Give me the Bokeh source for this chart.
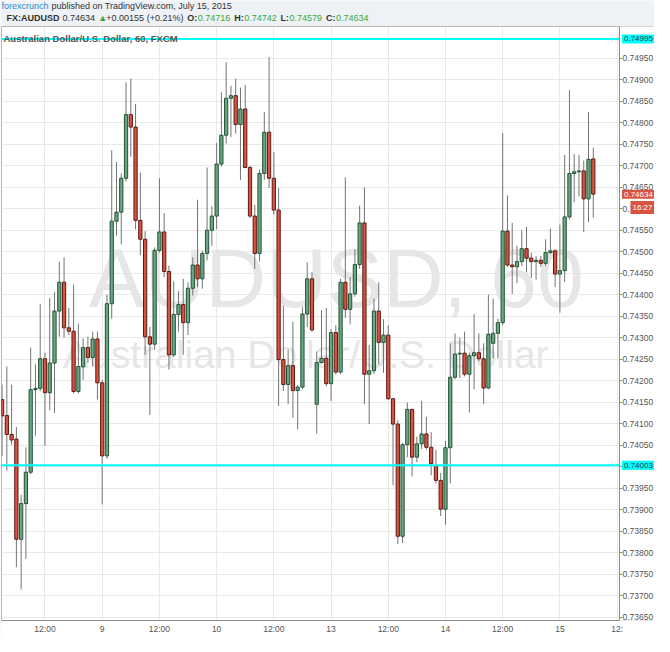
from bokeh.plotting import figure
from bokeh.layouts import column
from bokeh.models import ColumnDataSource, Range1d, FixedTicker, Label, PrintfTickFormatter, BoxAnnotation
from bokeh.embed import file_html
from bokeh.resources import INLINE

# hourly AUD/USD candles, 8 Jul 03:00 .. 15 Jul 07:00
opens = [0.74156, 0.74119, 0.74075, 0.74064, 0.73831, 0.73914, 0.73987, 0.74179, 0.74182, 0.74251,
         0.74172, 0.74241, 0.74362, 0.74429, 0.74323, 0.74315, 0.74175, 0.74232, 0.74277, 0.74254,
         0.74297, 0.74195, 0.74025, 0.74379, 0.74571, 0.74592, 0.74671, 0.74819, 0.74790, 0.74573,
         0.74529, 0.74302, 0.74285, 0.74503, 0.74546, 0.74454, 0.74260, 0.74354, 0.74377, 0.74335,
         0.74415, 0.74469, 0.74437, 0.74496, 0.74550, 0.74583, 0.74704, 0.74771, 0.74857, 0.74863,
         0.74796, 0.74832, 0.74696, 0.74583, 0.74496, 0.74682, 0.74778, 0.74671, 0.74597, 0.74249,
         0.74191, 0.74235, 0.74177, 0.74185, 0.74355, 0.74437, 0.74145, 0.74242, 0.74252, 0.74193,
         0.74312, 0.74220, 0.74429, 0.74366, 0.74402, 0.74470, 0.74567, 0.74215, 0.74223, 0.74362,
         0.74289, 0.74306, 0.74158, 0.74099, 0.73838, 0.74051, 0.74133, 0.74022, 0.74053, 0.74076,
         0.74045, 0.74003, 0.73968, 0.73901, 0.74044, 0.74208, 0.74262, 0.74264, 0.74215, 0.74258,
         0.74265, 0.74251, 0.74183, 0.74287, 0.74310, 0.74335, 0.74548, 0.74469, 0.74465, 0.74477,
         0.74507, 0.74485, 0.74477, 0.74480, 0.74473, 0.74498, 0.74502, 0.74448, 0.74456, 0.74581,
         0.74682, 0.74686, 0.74688, 0.74623, 0.74716]
highs = [0.74191, 0.74233, 0.74191, 0.74092, 0.73935, 0.74045, 0.74277, 0.74238, 0.74379, 0.74265,
         0.74392, 0.74406, 0.74477, 0.74487, 0.74369, 0.74424, 0.74333, 0.74298, 0.74302, 0.74314,
         0.74314, 0.74202, 0.74400, 0.74736, 0.74709, 0.74682, 0.74894, 0.74903, 0.74844, 0.74684,
         0.74548, 0.74325, 0.74510, 0.74671, 0.74590, 0.74468, 0.74431, 0.74408, 0.74437, 0.74429,
         0.74487, 0.74621, 0.74503, 0.74696, 0.74606, 0.74753, 0.74871, 0.74941, 0.74886, 0.74903,
         0.74882, 0.74888, 0.74700, 0.74609, 0.74691, 0.74825, 0.74953, 0.74732, 0.74648, 0.74375,
         0.74272, 0.74337, 0.74190, 0.74371, 0.74475, 0.74452, 0.74268, 0.74364, 0.74369, 0.74320,
         0.74329, 0.74437, 0.74673, 0.74441, 0.74506, 0.74607, 0.74650, 0.74283, 0.74391, 0.74429,
         0.74343, 0.74329, 0.74160, 0.74108, 0.74055, 0.74149, 0.74135, 0.74070, 0.74153, 0.74116,
         0.74080, 0.74039, 0.73985, 0.74060, 0.74287, 0.74310, 0.74300, 0.74314, 0.74265, 0.74355,
         0.74310, 0.74287, 0.74400, 0.74391, 0.74344, 0.74776, 0.74631, 0.74567, 0.74514, 0.74550,
         0.74558, 0.74498, 0.74490, 0.74490, 0.74529, 0.74554, 0.74505, 0.74563, 0.74725, 0.74876,
         0.74727, 0.74725, 0.74712, 0.74825, 0.74742]
lows = [0.74025, 0.73991, 0.74051, 0.73766, 0.73714, 0.73785, 0.73982, 0.74072, 0.74175, 0.74048,
        0.74131, 0.74125, 0.74302, 0.74300, 0.74306, 0.74170, 0.74170, 0.74202, 0.74241, 0.74233,
        0.74156, 0.73912, 0.74018, 0.74344, 0.74537, 0.74517, 0.74663, 0.74721, 0.74552, 0.74492,
        0.74260, 0.74120, 0.74272, 0.74498, 0.74441, 0.74226, 0.74255, 0.74314, 0.74260, 0.74306,
        0.74398, 0.74418, 0.74414, 0.74480, 0.74514, 0.74552, 0.74698, 0.74752, 0.74767, 0.74775,
        0.74667, 0.74694, 0.74579, 0.74460, 0.74477, 0.74667, 0.74648, 0.74586, 0.74141, 0.74176,
        0.74145, 0.74114, 0.74087, 0.74180, 0.74325, 0.74314, 0.74077, 0.74240, 0.74187, 0.74153,
        0.74214, 0.74215, 0.74346, 0.74331, 0.74395, 0.74460, 0.74146, 0.74099, 0.74215, 0.74238,
        0.74218, 0.74155, 0.73957, 0.73820, 0.73822, 0.74022, 0.73977, 0.74010, 0.74041, 0.74040,
        0.73980, 0.73961, 0.73885, 0.73865, 0.73961, 0.74203, 0.74206, 0.74210, 0.74126, 0.74180,
        0.74245, 0.74146, 0.74180, 0.74252, 0.74252, 0.74329, 0.74465, 0.74402, 0.74427, 0.74467,
        0.74452, 0.74439, 0.74435, 0.74465, 0.74467, 0.74495, 0.74418, 0.74358, 0.74429, 0.74575,
        0.74615, 0.74629, 0.74546, 0.74569, 0.74579]
closes = [0.74118, 0.74075, 0.74062, 0.73831, 0.73914, 0.73987, 0.74179, 0.74182, 0.74251, 0.74172,
          0.74241, 0.74362, 0.74429, 0.74323, 0.74315, 0.74175, 0.74233, 0.74277, 0.74254, 0.74297,
          0.74195, 0.74025, 0.74379, 0.74571, 0.74592, 0.74671, 0.74819, 0.74790, 0.74573, 0.74529,
          0.74302, 0.74285, 0.74503, 0.74546, 0.74454, 0.74260, 0.74354, 0.74377, 0.74335, 0.74415,
          0.74469, 0.74437, 0.74496, 0.74550, 0.74583, 0.74704, 0.74771, 0.74857, 0.74863, 0.74796,
          0.74832, 0.74696, 0.74583, 0.74496, 0.74682, 0.74778, 0.74671, 0.74597, 0.74249, 0.74191,
          0.74235, 0.74177, 0.74185, 0.74355, 0.74437, 0.74318, 0.74242, 0.74252, 0.74193, 0.74312,
          0.74220, 0.74429, 0.74366, 0.74402, 0.74470, 0.74567, 0.74215, 0.74223, 0.74362, 0.74289,
          0.74306, 0.74158, 0.74099, 0.73838, 0.74051, 0.74133, 0.74022, 0.74053, 0.74076, 0.74045,
          0.74007, 0.73968, 0.73901, 0.74044, 0.74208, 0.74262, 0.74264, 0.74215, 0.74258, 0.74265,
          0.74251, 0.74183, 0.74308, 0.74310, 0.74335, 0.74548, 0.74469, 0.74465, 0.74477, 0.74507,
          0.74485, 0.74477, 0.74480, 0.74473, 0.74498, 0.74502, 0.74448, 0.74456, 0.74581, 0.74682,
          0.74686, 0.74688, 0.74623, 0.74715, 0.74634]

tick_bars = [9, 21, 33, 45, 57, 69, 81, 93, 105, 117, 129]
tick_labels = ["12:00", "9", "12:00", "10", "12:00", "13", "12:00", "14", "12:00", "15", "12:"]
price_ticks = [0.7365, 0.7370, 0.7375, 0.7380, 0.7385, 0.7390, 0.7395, 0.7400, 0.7405, 0.7410,
               0.7415, 0.7420, 0.7425, 0.7430, 0.7435, 0.7440, 0.7445, 0.7450, 0.7455, 0.7460,
               0.7465, 0.7470, 0.7475, 0.7480, 0.7485, 0.7490, 0.7495]
hlines = [0.74995, 0.74003]
last_price = 0.74634
countdown = "16:27"
countdown_y = 0.74603

UP, DOWN = "#6ba583", "#d75442"
UP_EDGE, DOWN_EDGE = "#225437", "#5b1a13"
BG = "#eef1f5"
FONT = "Liberation Sans"

W = 654
HDR_H = 26
H = 636 - HDR_H
BOTTOM = 14
X0, X1 = -0.12, 129.5              # bars shown in the chart area
CHART_PX = 618                     # chart area width, the price scale sits right of it
FRAME_PX = W - 1
ppu = CHART_PX / (X1 - X0)
X_END = X0 + FRAME_PX / ppu

# ---------------------------------------------------------------- header
hdr = figure(width=W, height=HDR_H, x_range=Range1d(0, W), y_range=Range1d(HDR_H, 0),
             toolbar_location=None, output_backend="svg", min_border=0,
             x_axis_location=None, y_axis_location=None)
hdr.grid.visible = False
hdr.outline_line_color = None
hdr.background_fill_color = BG
hdr.border_fill_color = BG

GREEN = "#3aa83a"
header = [
    (0, 5.5, "forexcrunch", "#2f8ccc", "normal"),
    (50, 5.5, "published on TradingView.com, July 15, 2015", "#333333", "normal"),
    (5, 17.5, "FX:AUDUSD", "#333333", "bold"),
    (61, 17.5, "0.74634", "#333333", "normal"),
    (97, 17.5, "\u25b2", GREEN, "normal"),
    (105, 17.5, "+0.00155 (+0.21%)", "#333333", "normal"),
    (186, 17.5, "O:", "#333333", "bold"),
    (196.5, 17.5, "0.74716", GREEN, "normal"),
    (233, 17.5, "H:", "#333333", "bold"),
    (243, 17.5, "0.74742", GREEN, "normal"),
    (279.5, 17.5, "L:", "#333333", "bold"),
    (288.5, 17.5, "0.74579", GREEN, "normal"),
    (325, 17.5, "C:", "#333333", "bold"),
    (335, 17.5, "0.74634", GREEN, "normal"),
]
for hx, hy, txt, col, style in header:
    hdr.add_layout(Label(x=hx, y=hy, text=txt, text_font=FONT, text_font_size="9px",
                         text_color=col, text_font_style=style, text_baseline="middle"))

# ---------------------------------------------------------------- chart
p = figure(width=W, height=H, x_range=Range1d(X0, X_END), y_range=Range1d(0.73642, 0.75024),
           y_axis_location="right", toolbar_location=None, output_backend="svg",
           min_border_left=1, min_border_right=0, min_border_top=0, min_border_bottom=BOTTOM)
p.border_fill_color = BG
p.background_fill_color = "white"
p.outline_line_color = "#b8b8b8"

p.yaxis.fixed_location = X1
p.yaxis.ticker = FixedTicker(ticks=price_ticks)
p.yaxis.formatter = PrintfTickFormatter(format="%.5f")
p.xaxis.ticker = FixedTicker(ticks=tick_bars)
p.xaxis.major_label_overrides = dict(zip(tick_bars, tick_labels))
p.xaxis.bounds = (X0, X1)
for ax in (p.xaxis, p.yaxis):
    ax.major_label_text_font = FONT
    ax.major_label_text_font_size = "8.5px"
    ax.major_label_text_color = "#555555"
    ax.axis_line_color = "#8c8c8c"
    ax.minor_tick_line_color = None
    ax.major_tick_in = 0
    ax.background_fill_color = "white"
p.yaxis.major_tick_out = 3
p.yaxis.major_label_standoff = 0
p.yaxis.major_tick_line_color = "#8c8c8c"
p.xaxis.major_tick_out = 0
p.xaxis.major_label_standoff = 3
p.xaxis.major_tick_line_color = None
p.xgrid.ticker = FixedTicker(ticks=tick_bars)
p.xgrid.grid_line_color = "#e9e9e9"
p.ygrid.grid_line_color = "#e9e9e9"
# price scale area stays white
p.add_layout(BoxAnnotation(left=X1, fill_color="white", fill_alpha=1, line_color=None, level="underlay"))

# watermark
p.add_layout(Label(x=18.2, y=0.74330, text="AUDUSD, 60", text_font=FONT,
                   text_font_size="84px", text_color="#e6e6e6", level="underlay"))
p.add_layout(Label(x=12.8, y=0.74210, text="Australian Dollar/U.S. Dollar", text_font=FONT,
                   text_font_size="39px", text_color="#e6e6e6", level="underlay"))

body_fill = [UP if c >= o else DOWN for o, c in zip(opens, closes)]
body_edge = [UP_EDGE if c >= o else DOWN_EDGE for o, c in zip(opens, closes)]
src = ColumnDataSource(dict(
    x=list(range(len(opens))), high=highs, low=lows,
    top=[max(o, c) for o, c in zip(opens, closes)],
    bottom=[min(o, c) for o, c in zip(opens, closes)],
    fill=body_fill, edge=body_edge))
p.segment(x0="x", y0="high", x1="x", y1="low", line_color="#737375", line_width=1, source=src)
p.vbar(x="x", width=0.68, top="top", bottom="bottom", fill_color="fill", line_color="edge",
       line_width=1, source=src)

# horizontal levels, over the candles
p.segment(x0=[X0] * len(hlines), y0=hlines, x1=[X1] * len(hlines), y1=hlines,
          line_color="#00ffff", line_width=2)

p.add_layout(Label(x=2, y=0.74995, x_units="screen", text="Australian Dollar/U.S. Dollar, 60, FXCM",
                   text_font=FONT, text_font_size="9.5px", text_font_style="bold",
                   text_color="#555555", text_baseline="middle"))

# tags on the price scale
tag_x = X1 + 2.5 / ppu
for lvl in hlines:
    p.add_layout(Label(x=tag_x, y=lvl, text="%.5f" % lvl, text_font=FONT,
                       text_font_size="8px", text_color="#333333", text_baseline="middle",
                       background_fill_color="#00ffff", padding=2))
p.add_layout(Label(x=tag_x, y=last_price, text="%.5f" % last_price, text_font=FONT,
                   text_font_size="8px", text_color="white", text_baseline="middle",
                   background_fill_color=DOWN, padding=2))
p.add_layout(Label(x=X1 + 11 / ppu, y=countdown_y, text=countdown, text_font=FONT,
                   text_font_size="8px", text_color="white", text_baseline="middle",
                   background_fill_color=DOWN, padding=2))

page = column(hdr, p, spacing=0)
open("out.html", "w").write(file_html(page, INLINE))
